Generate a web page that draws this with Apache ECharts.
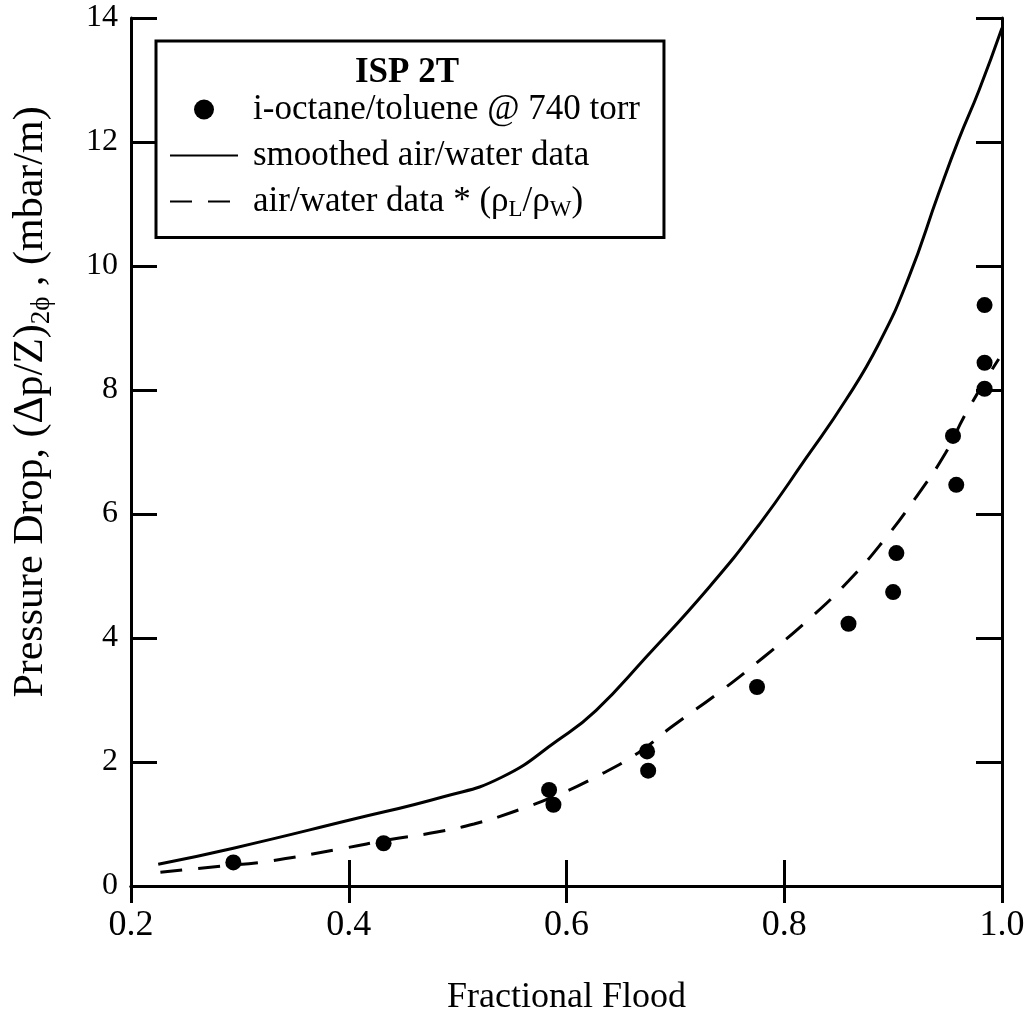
<!DOCTYPE html>
<html>
<head>
<meta charset="utf-8">
<script src="https://cdn.jsdelivr.net/npm/echarts@6/dist/echarts.min.js"></script>
<style>
html, body { margin: 0; padding: 0; background: #fff; }
#chart { width: 1028px; height: 1012px; }
</style>
</head>
<body>
<div id="chart"></div>
<script>
var chart = echarts.init(document.getElementById('chart'));

// i-octane/toluene points
var fracMeasured = [0.294, 0.432, 0.584, 0.588, 0.674, 0.675, 0.775, 0.859, 0.900, 0.903, 0.955, 0.958, 0.984, 0.984, 0.984];
var dpMeasured = [0.38, 0.69, 1.55, 1.31, 2.17, 1.86, 3.21, 4.23, 4.74, 5.37, 7.26, 6.47, 9.37, 8.44, 8.02];

// smoothed air/water curve
var fracSmooth = [0.225, 0.294, 0.400, 0.487, 0.540, 0.592, 0.627, 0.673, 0.731, 0.777, 0.820, 0.857, 0.887, 0.914, 0.942, 0.960, 0.979, 1.000];
var dpSmooth = [0.35, 0.61, 1.06, 1.44, 1.75, 2.35, 2.83, 3.69, 4.82, 5.83, 6.90, 7.85, 8.75, 9.80, 11.18, 12.03, 12.84, 13.84];

// air/water * density ratio
var fracScaled = [0.227, 0.282, 0.323, 0.396, 0.438, 0.481, 0.515, 0.550, 0.592, 0.627, 0.666, 0.696, 0.743, 0.781, 0.820, 0.859, 0.893, 0.921, 0.948, 0.967, 0.997];
var dpScaled = [0.22, 0.32, 0.39, 0.61, 0.75, 0.87, 1.00, 1.19, 1.47, 1.76, 2.15, 2.56, 3.16, 3.69, 4.26, 4.92, 5.61, 6.27, 6.98, 7.63, 8.50];

var seriesNames = ['i-octane/toluene @ 740 torr', 'smoothed air/water data', 'air/water data * (ρL/ρW)'];

function pairs(xs, ys) {
	var out = [];
	for (var i = 0; i < xs.length; i++) {
		out.push([xs[i], ys[i]]);
	}
	return out;
}

var FONT = '"Liberation Serif", "Times New Roman", serif';
var black = '#000';

var option = {
	backgroundColor: '#fff',
	animation: false,
	textStyle: { fontFamily: FONT, color: black },
	grid: { left: 131, right: 26, top: 18, bottom: 126, outerBoundsMode: 'none', containLabel: false },
	xAxis: [{
		type: 'value', min: 0.2, max: 1.0, interval: 0.2,
		name: 'Fractional Flood', nameLocation: 'middle', nameGap: 94,
		nameTextStyle: { fontFamily: FONT, fontSize: 36, color: black },
		axisLine: { lineStyle: { color: black, width: 3 } },
		axisTick: { inside: true, length: 26, lineStyle: { color: black, width: 3 } },
		axisLabel: {
			fontFamily: FONT, fontSize: 36, color: black, margin: 22,
			formatter: function (v) { return v.toFixed(1); }
		},
		splitLine: { show: false }
	}, {
		type: 'value', position: 'top', min: 0.2, max: 1.0, interval: 0.2,
		axisLine: { lineStyle: { color: black, width: 3 } },
		axisTick: { inside: true, length: 17, lineStyle: { color: black, width: 3 } },
		axisLabel: { show: false },
		splitLine: { show: false }
	}],
	yAxis: [{
		type: 'value', min: 0, max: 14, interval: 2,
		axisLine: { lineStyle: { color: black, width: 3 } },
		axisTick: { inside: true, length: 26, lineStyle: { color: black, width: 3 } },
		axisLabel: { fontFamily: FONT, fontSize: 32, color: black, margin: 13 },
		splitLine: { show: false }
	}, {
		type: 'value', position: 'right', min: 0, max: 14, interval: 2,
		axisLine: { lineStyle: { color: black, width: 3 } },
		axisTick: { inside: true, length: 26, lineStyle: { color: black, width: 3 } },
		axisLabel: { show: false },
		splitLine: { show: false }
	}],
	legend: {
		orient: 'vertical',
		left: 156,
		top: 41,
		padding: [51, 24, 16, 13],
		itemWidth: 68,
		itemHeight: 20,
		itemGap: 11,
		backgroundColor: '#fff',
		borderColor: black,
		borderWidth: 3,
		borderRadius: 0,
		data: [
			{ name: seriesNames[0], icon: 'circle' },
			{ name: seriesNames[1], itemStyle: { opacity: 0 } },
			{ name: seriesNames[2], itemStyle: { opacity: 0 } }
		],
		formatter: function (name) {
			if (name === seriesNames[2]) {
				return '{a|air/water data * (ρ}{s|L}{a|/ρ}{s|W}{a|)}';
			}
			return '{a|' + name + '}';
		},
		textStyle: {
			padding: [0, 0, 0, 10],
			rich: {
				a: { fontFamily: FONT, fontSize: 35, color: black, lineHeight: 40 },
				s: { fontFamily: FONT, fontSize: 23, color: black, lineHeight: 22, verticalAlign: 'bottom' }
			}
		}
	},
	graphic: [{
		type: 'text',
		x: 407, y: 73, z: 100,
		style: {
			text: 'ISP 2T',
			fontFamily: FONT, fontSize: 35, fontWeight: 'bold', fill: black,
			align: 'center', verticalAlign: 'middle'
		}
	}, {
		type: 'text',
		x: 31, y: 402, rotation: Math.PI / 2,
		style: {
			text: '{a|Pressure Drop, (Δp/Z)}{s|2ϕ}{a| , (mbar/m)}',
			align: 'center', verticalAlign: 'middle',
			rich: {
				a: { fontFamily: FONT, fontSize: 42, fill: black, lineHeight: 48 },
				s: { fontFamily: FONT, fontSize: 27, fill: black, lineHeight: 28, verticalAlign: 'bottom' }
			}
		}
	}],
	series: [{
		name: seriesNames[0],
		type: 'scatter',
		data: pairs(fracMeasured, dpMeasured),
		symbol: 'circle',
		symbolSize: 16,
		itemStyle: { color: black, opacity: 1 },
		z: 5
	}, {
		name: seriesNames[1],
		type: 'line',
		data: pairs(fracSmooth, dpSmooth),
		smooth: true,
		showSymbol: false,
		symbol: 'none',
		lineStyle: { color: black, width: 3 },
		itemStyle: { color: black }
	}, {
		name: seriesNames[2],
		type: 'line',
		data: pairs(fracScaled, dpScaled),
		smooth: true,
		showSymbol: false,
		symbol: 'none',
		lineStyle: { color: black, width: 3, type: [22, 16] },
		itemStyle: { color: black }
	}]
};

chart.setOption(option);
</script>
</body>
</html>
